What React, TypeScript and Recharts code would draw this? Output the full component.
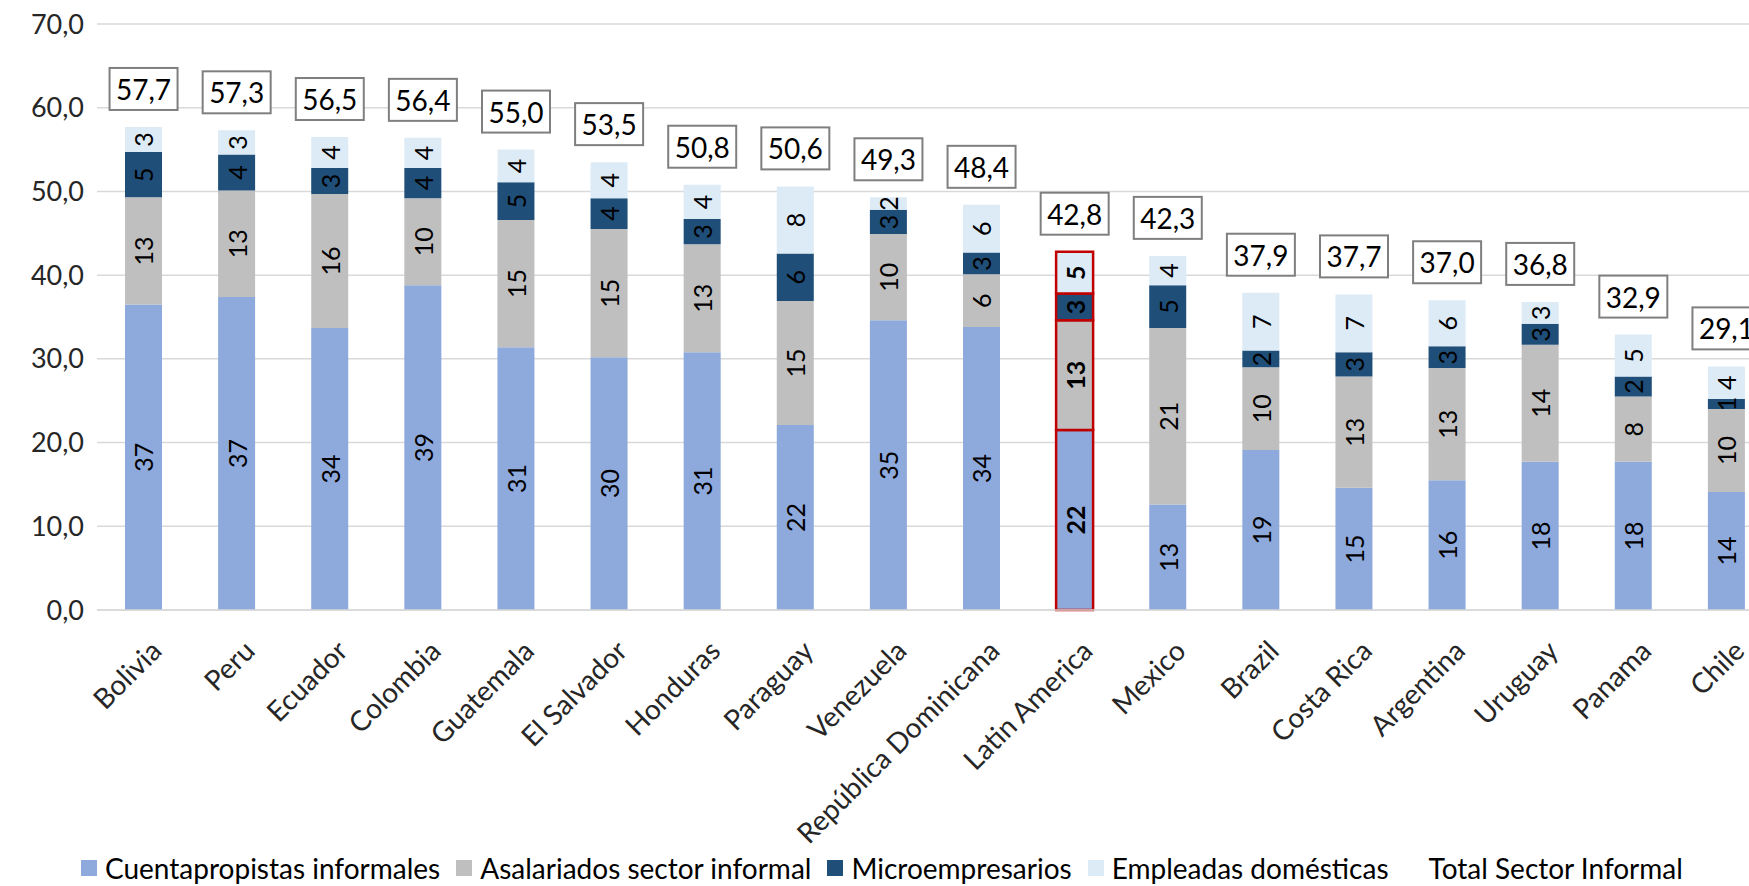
import React from 'react';
import {
  ComposedChart,
  Bar,
  Line,
  XAxis,
  YAxis,
  CartesianGrid,
  Legend,
  LabelList,
  Cell,
} from 'recharts';

// Sector informal por componente (% de ocupados)
const categories = [
  'Bolivia',
  'Peru',
  'Ecuador',
  'Colombia',
  'Guatemala',
  'El Salvador',
  'Honduras',
  'Paraguay',
  'Venezuela',
  'República Dominicana',
  'Latin America',
  'Mexico',
  'Brazil',
  'Costa Rica',
  'Argentina',
  'Uruguay',
  'Panama',
  'Chile',
];

const cuentapropistas = [36.5, 37.4, 33.7, 38.8, 31.4, 30.2, 30.8, 22.1, 34.6, 33.8, 21.5, 12.6, 19.1, 14.6, 15.5, 17.7, 17.7, 14.1];
const asalariados = [12.8, 12.7, 16.0, 10.4, 15.2, 15.3, 12.9, 14.8, 10.3, 6.3, 13.1, 21.1, 9.9, 13.3, 13.4, 14.0, 7.8, 9.9];
const microempresarios = [5.4, 4.3, 3.1, 3.6, 4.5, 3.7, 3.0, 5.7, 2.9, 2.6, 3.2, 5.1, 2.0, 2.9, 2.6, 2.5, 2.4, 1.2];
const domesticas = [3.0, 2.9, 3.7, 3.6, 3.9, 4.3, 4.1, 8.0, 1.5, 5.7, 5.0, 3.5, 6.9, 6.9, 5.5, 2.6, 5.0, 3.9];
const totalInformal = [57.7, 57.3, 56.5, 56.4, 55.0, 53.5, 50.8, 50.6, 49.3, 48.4, 42.8, 42.3, 37.9, 37.7, 37.0, 36.8, 32.9, 29.1];

const yTicks = [0, 10, 20, 30, 40, 50, 60, 70];

const HIGHLIGHT = 'Latin America';
const FONT = 'Lato, "Open Sans", sans-serif';

const COLORS = {
  cuenta: '#8EA9DB',
  asal: '#BFBFBF',
  micro: '#1F4E79',
  dom: '#DDEBF7',
  grid: '#D9D9D9',
  text: '#262626',
  highlight: '#C00000',
  box: '#7F7F7F',
};

const series = [
  { key: 'cuenta', name: 'Cuentapropistas informales', values: cuentapropistas, color: COLORS.cuenta },
  { key: 'asal', name: 'Asalariados sector informal', values: asalariados, color: COLORS.asal },
  { key: 'micro', name: 'Microempresarios', values: microempresarios, color: COLORS.micro },
  { key: 'dom', name: 'Empleadas domésticas', values: domesticas, color: COLORS.dom },
];

const data = categories.map((name, i) => ({
  name,
  cuenta: cuentapropistas[i],
  asal: asalariados[i],
  micro: microempresarios[i],
  dom: domesticas[i],
  total: totalInformal[i],
}));

const fmt = (v: number) => v.toFixed(1).replace('.', ',');

const segmentLabel = (values: number[]) => (props: any) => {
  const { x, y, width, height, index } = props;
  const cx = Number(x) + Number(width) / 2;
  const cy = Number(y) + Number(height) / 2;
  const bold = categories[index] === HIGHLIGHT;
  return (
    <text
      x={cx}
      y={cy}
      transform={`rotate(-90, ${cx}, ${cy})`}
      textAnchor="middle"
      dominantBaseline="central"
      fontFamily={FONT}
      fontSize={25}
      fontWeight={bold ? 700 : 400}
      fill="#000"
    >
      {Math.round(values[index])}
    </text>
  );
};

const TotalBox = (props: any) => {
  const { x, y, index } = props;
  const w = 68;
  const h = 42;
  const cy = Number(y) - 38;
  return (
    <g>
      <rect x={x - w / 2} y={cy - h / 2} width={w} height={h} fill="#fff" stroke={COLORS.box} strokeWidth={2} />
      <text x={x} y={cy} textAnchor="middle" dominantBaseline="central" fontFamily={FONT} fontSize={28} fill="#000">
        {fmt(totalInformal[index])}
      </text>
    </g>
  );
};

const CountryTick = (props: any) => {
  const { x, y, payload } = props;
  return (
    <g transform={`translate(${x + 12},${y + 35})`}>
      <text
        textAnchor="end"
        dominantBaseline="central"
        transform="rotate(-45)"
        fontFamily={FONT}
        fontSize={28}
        fill={COLORS.text}
      >
        {payload.value}
      </text>
    </g>
  );
};

const LegendRow = () => (
  <div
    style={{
      display: 'flex',
      alignItems: 'center',
      height: 40,
      paddingLeft: 81,
      fontFamily: FONT,
      fontSize: 28,
      color: '#000',
      whiteSpace: 'nowrap',
    }}
  >
    {[...series.map((s) => ({ name: s.name, color: s.color })), { name: 'Total Sector Informal', color: 'transparent' }].map(
      (item) => (
        <span key={item.name} style={{ display: 'inline-flex', alignItems: 'center', marginRight: 16 }}>
          <span style={{ display: 'inline-block', width: 16, height: 16, background: item.color, marginRight: 8 }} />
          {item.name}
        </span>
      )
    )}
  </div>
);

export default function App() {
  return (
    <div
      style={{
        position: 'absolute',
        left: 0,
        top: 0,
        width: 1749,
        height: 886,
        overflow: 'hidden',
        background: '#fff',
      }}
    >
      <ComposedChart
        width={1773}
        height={886}
        data={data}
        margin={{ top: 24, right: 0, left: 0, bottom: 0 }}
        barCategoryGap={0}
      >
        <CartesianGrid vertical={false} stroke={COLORS.grid} strokeWidth={1.5} />
        <XAxis
          dataKey="name"
          interval={0}
          height={236}
          tickLine={false}
          tickSize={0}
          tickMargin={0}
          axisLine={{ stroke: COLORS.grid, strokeWidth: 1.5 }}
          tick={<CountryTick />}
        />
        <YAxis
          width={97}
          domain={[0, 70]}
          ticks={yTicks}
          tickFormatter={fmt}
          axisLine={false}
          tickLine={false}
          tickMargin={7}
          tick={{ fontFamily: FONT, fontSize: 27, fill: COLORS.text }}
        />
        <Legend
          verticalAlign="bottom"
          content={<LegendRow />}
          wrapperStyle={{ left: 0, width: 1749, bottom: 'auto', top: 848 }}
        />
        {series.map((s) => (
          <Bar key={s.key} dataKey={s.key} name={s.name} stackId="a" fill={s.color} barSize={37} isAnimationActive={false}>
            {categories.map((c) => (
              <Cell
                key={c}
                fill={s.color}
                stroke={c === HIGHLIGHT ? COLORS.highlight : 'none'}
                strokeWidth={c === HIGHLIGHT ? 2.5 : 0}
              />
            ))}
            <LabelList dataKey={s.key} content={segmentLabel(s.values)} />
          </Bar>
        ))}
        <Line
          dataKey="total"
          name="Total Sector Informal"
          stroke="none"
          dot={false}
          activeDot={false}
          legendType="none"
          isAnimationActive={false}
        >
          <LabelList dataKey="total" content={<TotalBox />} />
        </Line>
      </ComposedChart>
    </div>
  );
}
